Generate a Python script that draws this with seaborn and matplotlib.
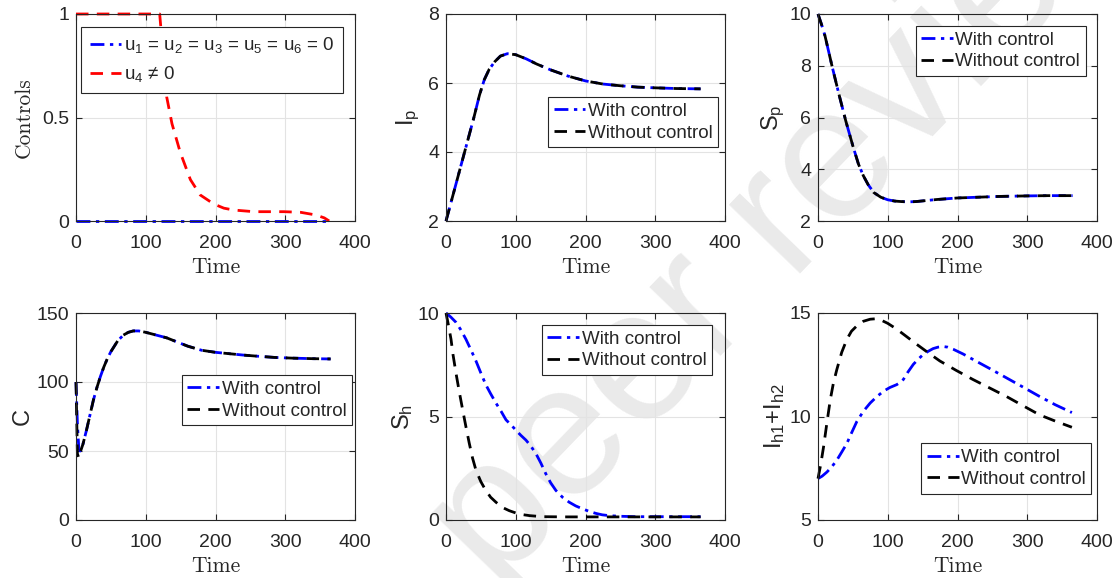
import numpy as np
import pandas as pd
import matplotlib
matplotlib.use("Agg")
import matplotlib.pyplot as plt
import seaborn as sns

# ---------------- data ----------------
# Panel 1: controls
u_zero_t = [0, 365]
u_zero = [0, 0]
u4_t = [0, 20, 40, 60, 80, 100, 115, 120, 125, 130, 137.6, 149.6, 164, 178, 197.6, 212, 226, 255, 298, 322, 344, 356, 363]
u4 = [1, 1, 1, 1, 1, 1, 1, 1, 0.8, 0.60, 0.47, 0.33, 0.20, 0.126, 0.082, 0.062, 0.053, 0.045, 0.045, 0.042, 0.029, 0.015, 0]

# Panel 2: I_p
ip_t = [0, 10, 20, 30, 40, 48, 55, 62, 70, 78, 88, 100, 115, 130, 150, 175, 200, 225, 250, 275, 300, 330, 365]
ip_with = [2.0, 2.75, 3.5, 4.25, 5.0, 5.65, 6.1, 6.4, 6.62, 6.78, 6.85, 6.82, 6.7, 6.55, 6.38, 6.2, 6.06, 5.97, 5.92, 5.88, 5.86, 5.84, 5.83]
ip_without = [2.0, 2.75, 3.5, 4.25, 5.0, 5.65, 6.1, 6.4, 6.62, 6.78, 6.85, 6.82, 6.7, 6.55, 6.38, 6.2, 6.06, 5.97, 5.92, 5.88, 5.86, 5.84, 5.83]

# Panel 3: S_p
sp_t = [0, 5, 10, 20, 30, 40, 50, 58, 65, 72, 80, 90, 100, 110, 120, 130, 140, 155, 170, 200, 230, 260, 300, 330, 365]
sp_with = [10, 9.6, 9.16, 8.0, 6.9, 5.85, 4.9, 4.2, 3.75, 3.4, 3.1, 2.92, 2.82, 2.77, 2.75, 2.74, 2.75, 2.79, 2.83, 2.89, 2.92, 2.95, 2.97, 2.98, 2.98]
sp_without = [10, 9.6, 9.16, 8.0, 6.9, 5.85, 4.9, 4.2, 3.75, 3.4, 3.1, 2.92, 2.82, 2.77, 2.75, 2.74, 2.75, 2.79, 2.83, 2.89, 2.92, 2.95, 2.97, 2.98, 2.98]

# Panel 4: C
c_t = [0, 2, 4, 6, 10, 15, 20, 25, 30, 35, 40, 45, 50, 55, 60, 68, 75, 82, 90, 100, 115, 130, 145, 160, 180, 200, 220, 240, 260, 285, 310, 340, 365]
c_with = [100, 70, 52, 50, 55, 65, 76, 87, 96, 104, 111, 117, 122, 126, 130, 134, 136, 137, 137, 136, 134, 132, 129, 126, 123, 121.5, 120.5, 119.5, 118.7, 117.8, 117.3, 116.9, 116.7]
c_without = [100, 48, 45, 49, 55, 65, 76, 87, 96, 104, 111, 117, 122, 126, 130, 134, 136, 137, 137, 136, 134, 132, 129, 126, 123, 121.5, 120.5, 119.5, 118.7, 117.8, 117.3, 116.9, 116.7]

# Panel 5: S_h
sh_t_with = [0, 7, 14.3, 21, 28.6, 36, 43, 50, 57, 64, 71.6, 79, 86, 93, 100, 107, 114.6, 121, 128.9, 136,
             143, 150, 157.5, 167, 176.6, 186, 195.7, 205, 214.8, 224, 233.9, 250, 272, 300, 330, 365]
sh_with = [10, 9.8, 9.55, 9.2, 8.73, 8.2, 7.68, 7.1, 6.54, 6.1, 5.65, 5.25, 4.84, 4.6, 4.35, 4.1, 3.86, 3.6, 3.21, 2.75,
           2.24, 1.8, 1.43, 1.1, 0.86, 0.68, 0.54, 0.42, 0.32, 0.25, 0.21, 0.18, 0.16, 0.16, 0.16, 0.16]
sh_t_without = [0, 3, 7.2, 10, 14.3, 19, 23.9, 28.6, 33.4, 38, 43, 50, 57, 64, 71.6, 80, 90.7, 100, 109.8, 120,
                138.4, 170, 200, 250, 300, 365]
sh_without = [10, 9.5, 8.73, 8.0, 7.1, 6.2, 5.32, 4.5, 3.70, 3.0, 2.4, 1.85, 1.43, 1.1, 0.86, 0.62, 0.45, 0.34, 0.26, 0.21,
              0.16, 0.15, 0.15, 0.15, 0.15, 0.15]

# Panel 6: I_h1 + I_h2
ih_t_with = [0, 6, 12.9, 20, 27, 34, 41.4, 48, 55.7, 65, 74.8, 84, 93.8, 103, 112.9, 118, 122.4, 129, 136.7, 144,
             151, 158, 165, 172, 179.5, 186, 193.8, 208, 222, 246, 270, 294, 317.6, 340, 364]
ih_with = [7.0, 7.12, 7.32, 7.58, 7.89, 8.28, 8.7, 9.2, 9.76, 10.25, 10.65, 10.95, 11.22, 11.4, 11.54, 11.65, 11.79, 12.15, 12.52, 12.78,
           13.0, 13.15, 13.28, 13.35, 13.38, 13.35, 13.25, 13.02, 12.76, 12.32, 11.87, 11.42, 10.97, 10.57, 10.19]
ih_t_without = [0, 4, 8, 12.8, 17.6, 22, 27, 34, 41.4, 48, 55.7, 65, 74.8, 82, 89, 100, 112.9, 127, 141.4, 158,
                174.8, 198, 222, 246, 270, 294, 317.6, 340, 364]
ih_without = [7.0, 7.7, 8.54, 9.7, 10.81, 11.6, 12.27, 13.1, 13.73, 14.12, 14.38, 14.6, 14.7, 14.72, 14.68, 14.5, 14.22, 13.86, 13.49, 13.08,
              12.68, 12.23, 11.79, 11.38, 10.97, 10.52, 10.08, 9.78, 9.48]

x_ticks = [0, 100, 200, 300, 400]
lab_with = "With control"
lab_without = "Without control"

# ---------------- style ----------------
sns.set_theme(style="whitegrid")
plt.rcParams["font.family"] = ["Liberation Sans", "DejaVu Sans"]
plt.rcParams["mathtext.fontset"] = "custom"
plt.rcParams["mathtext.rm"] = "Liberation Sans"
plt.rcParams["mathtext.it"] = "Liberation Sans"
plt.rcParams["mathtext.bf"] = "Liberation Sans:bold"

DARK = "#262626"
BLUE = "#0000ff"
RED = "#ff0000"
BLUE_LS = (0, (5.0, 2.0, 1.2, 2.0))
BLACK_LS = (0, (4.5, 3.0))
LW = 2.0
TICK_FS = 14
LEG_FS = 13.5
SERIF = "cmr10"

fig = plt.figure(figsize=(11.18, 5.78), dpi=100)
fig.patch.set_facecolor("white")

W, H = 1118.0, 578.0
col_left = [76, 446, 818]
ax_w = 279
row_top = [14, 313]
ax_h = 207

# watermark
fig.text(495 / W, 1 - 590 / H, "peer reviewed", rotation=46, rotation_mode="anchor",
         ha="left", va="baseline", fontsize=135, color="#eaeaea", zorder=-5,
         family=["Liberation Sans", "DejaVu Sans"])

axes = []
for r in range(2):
    for c in range(3):
        ax = fig.add_axes([col_left[c] / W, 1 - (row_top[r] + ax_h) / H, ax_w / W, ax_h / H])
        ax.set_facecolor("none")
        axes.append(ax)


def style_axes(ax, ylim, yticks, yticklabels=None):
    ax.set_xlim(0, 400)
    ax.set_ylim(*ylim)
    ax.set_xticks(x_ticks)
    ax.set_yticks(yticks)
    if yticklabels is not None:
        ax.set_yticklabels(yticklabels)
    ax.grid(True, color="#e3e3e3", lw=0.8)
    ax.set_axisbelow(True)
    for s in ax.spines.values():
        s.set_visible(True)
        s.set_color(DARK)
        s.set_linewidth(0.8)
        s.set_zorder(10)
    ax.tick_params(axis="both", which="both", direction="in", length=4, width=0.8,
                   colors=DARK, labelsize=TICK_FS, top=True, right=True, bottom=True, left=True,
                   labelcolor=DARK)
    ax.tick_params(axis="x", pad=10)
    ax.tick_params(axis="y", pad=5)
    ax.set_xlabel("Time", family=SERIF, fontsize=15.5, color=DARK, labelpad=4)


def add_legend(ax, right, top):
    leg = ax.legend(loc="upper right", bbox_to_anchor=(right, top), fontsize=LEG_FS,
                    frameon=True, fancybox=False, framealpha=1, edgecolor=DARK,
                    handlelength=1.7, handletextpad=0.12, borderpad=0.3,
                    labelspacing=0.25, borderaxespad=0)
    leg.get_frame().set_linewidth(0.8)
    leg.set_zorder(20)
    return leg


def draw(ax, x, y, color, ls, label):
    sns.lineplot(x=np.asarray(x, float), y=np.asarray(y, float), ax=ax, color=color,
                 linestyle=ls, lw=LW, label=label, clip_on=False, estimator=None, sort=False)


# Panel 1
ax = axes[0]
draw(ax, u4_t, u4, RED, BLACK_LS, "u$_{4}$ \u2260 0")
draw(ax, u_zero_t, u_zero, BLUE, BLUE_LS, "u$_1$ = u$_2$ = u$_3$ = u$_5$ = u$_6$ = 0")
style_axes(ax, (0, 1), [0, 0.5, 1], ["0", "0.5", "1"])
ax.set_ylabel("Controls", family=SERIF, fontsize=15.5, color=DARK, labelpad=6)
h, l = ax.get_legend_handles_labels()
leg = ax.legend([h[1], h[0]], [l[1], l[0]], loc="upper right", bbox_to_anchor=(0.956, 0.939),
                fontsize=LEG_FS, frameon=True, fancybox=False, framealpha=1, edgecolor=DARK,
                handlelength=1.7, handletextpad=0.12, borderpad=0.45, labelspacing=0.5, borderaxespad=0)
leg.get_frame().set_linewidth(0.8)

# Panel 2
ax = axes[1]
draw(ax, ip_t, ip_with, BLUE, BLUE_LS, lab_with)
draw(ax, ip_t, ip_without, "black", BLACK_LS, lab_without)
style_axes(ax, (2, 8), [2, 4, 6, 8])
ax.set_ylabel(r"I$_\mathregular{p}$", fontsize=17, color=DARK, labelpad=4)
add_legend(ax, 0.975, 0.598)

# Panel 3
ax = axes[2]
draw(ax, sp_t, sp_with, BLUE, BLUE_LS, lab_with)
draw(ax, sp_t, sp_without, "black", BLACK_LS, lab_without)
style_axes(ax, (2, 10), [2, 4, 6, 8, 10])
ax.set_ylabel(r"S$_\mathregular{p}$", fontsize=17, color=DARK, labelpad=2)
add_legend(ax, 0.960, 0.943)

# Panel 4
ax = axes[3]
draw(ax, c_t, c_with, BLUE, BLUE_LS, lab_with)
draw(ax, c_t, c_without, "black", BLACK_LS, lab_without)
style_axes(ax, (0, 150), [0, 50, 100, 150])
ax.set_ylabel("C", fontsize=17, color=DARK, labelpad=2)
add_legend(ax, 0.989, 0.70)

# Panel 5
ax = axes[4]
draw(ax, sh_t_with, sh_with, BLUE, BLUE_LS, lab_with)
draw(ax, sh_t_without, sh_without, "black", BLACK_LS, lab_without)
style_axes(ax, (0, 10), [0, 5, 10])
ax.set_ylabel(r"S$_\mathregular{h}$", fontsize=17, color=DARK, labelpad=2)
add_legend(ax, 0.953, 0.943)

# Panel 6
ax = axes[5]
draw(ax, ih_t_with, ih_with, BLUE, BLUE_LS, lab_with)
draw(ax, ih_t_without, ih_without, "black", BLACK_LS, lab_without)
style_axes(ax, (5, 15), [5, 10, 15])
ax.set_ylabel(r"I$_\mathregular{h1}$+I$_\mathregular{h2}$", fontsize=17, color=DARK, labelpad=2)
add_legend(ax, 0.979, 0.370)

fig.savefig("out.png", dpi=100, facecolor="white")
